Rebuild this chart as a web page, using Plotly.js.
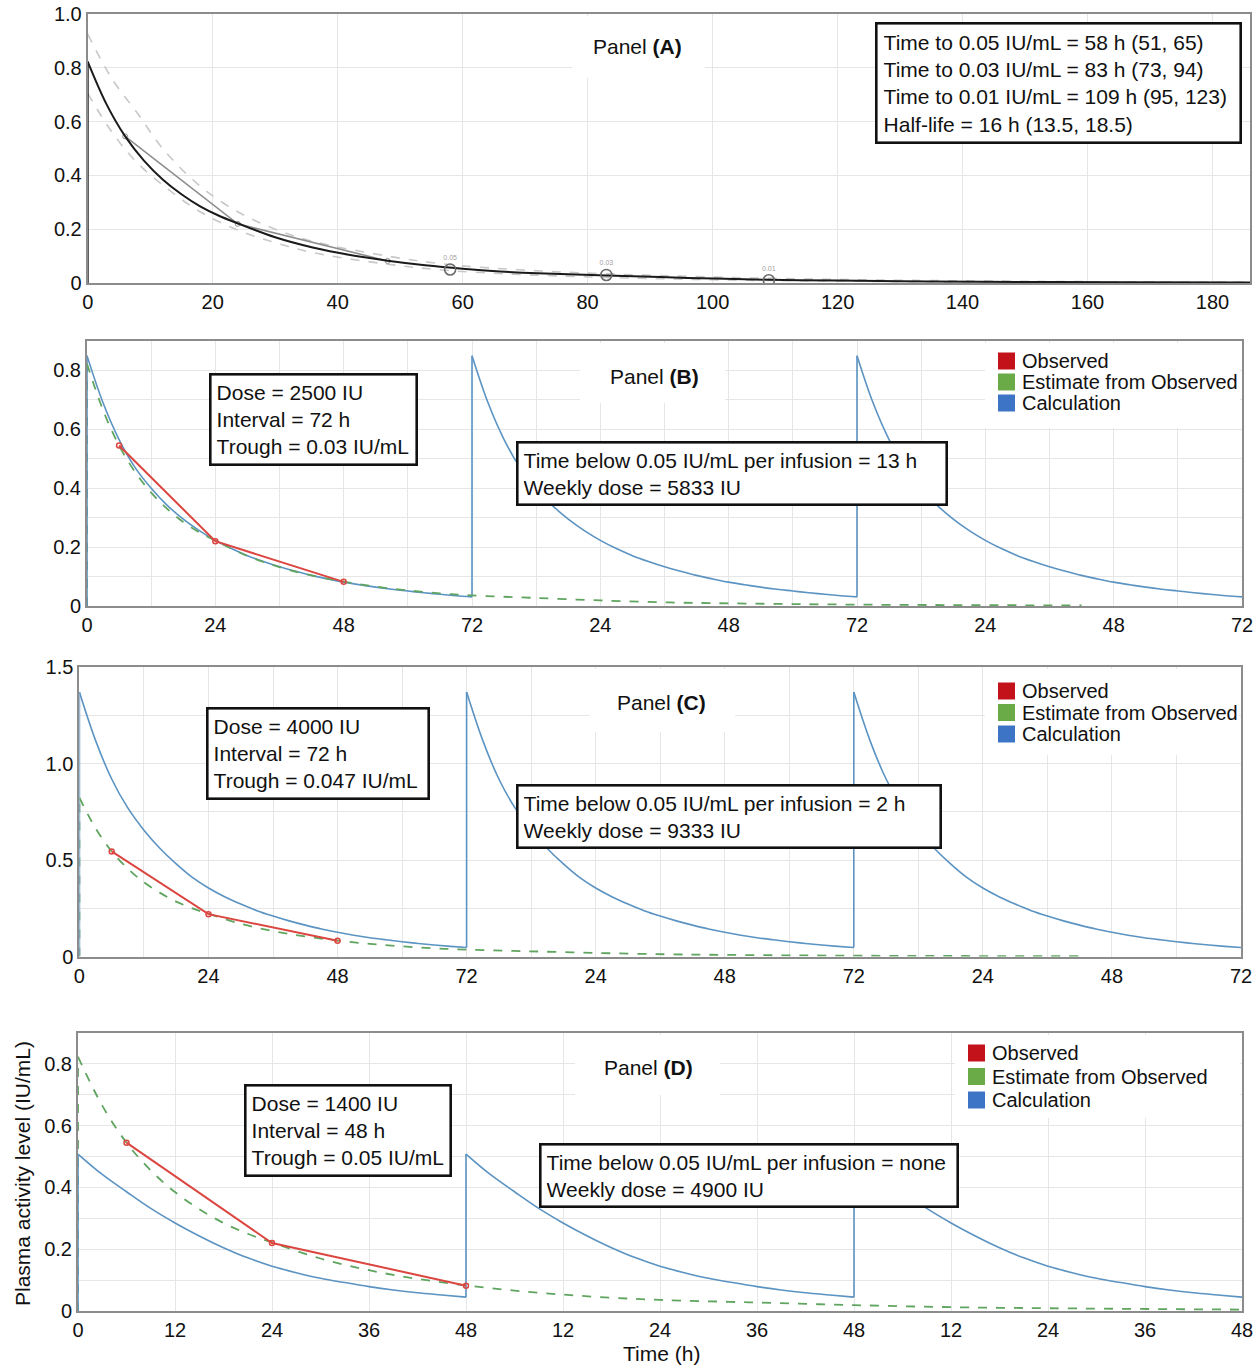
<!DOCTYPE html>
<html>
<head>
<meta charset="utf-8">
<script src="https://cdn.plot.ly/plotly-3.0.1.min.js"></script>
<style>html,body{margin:0;padding:0;background:#fff;}#chart{width:1256px;height:1365px;}</style>
</head>
<body>
<div id="chart"></div>
<script>
// ---------------- DATA ----------------
// Estimate from observed (panel A black curve, green dashed in B-D)
const estT = [0,3,6,9,12,15,18,21,24,30,36,42,48,54,60,66,72,83,96,109,120,135,150,165,186];
const estY = [0.823,0.665,0.545,0.455,0.385,0.33,0.285,0.25,0.222,0.17,0.132,0.104,0.083,0.066,0.053,0.043,0.036,0.028,0.019,0.012,0.009,0.006,0.004,0.003,0.002];
// Confidence band (panel A, grey dashed)
const ciUpT = [0,4,8,12,18,24,30,36,48,58,70,83,100,120,140,160,186];
const ciUpY = [0.925,0.755,0.63,0.5,0.36,0.265,0.2,0.155,0.1,0.068,0.048,0.034,0.022,0.013,0.008,0.005,0.003];
const ciLoT = [0,4,8,13,18,24,30,36,48,58,70,83,100,120,140,160,186];
const ciLoY = [0.705,0.557,0.445,0.346,0.265,0.197,0.15,0.113,0.07,0.046,0.031,0.021,0.012,0.007,0.004,0.003,0.002];
// Observed
const obsT = [6,24,48];
const obsY = [0.545,0.22,0.082];
// Threshold times (panel A)
const thrT = [58,83,109];
const thrY = [0.05,0.03,0.01];
const thrLabels = ["0.05","0.03","0.01"];
// Calculation (one dosing interval per panel)
const calcBT = [0,3,6,9,12,15,18,21,24,27,30,33,36,39,42,45,48,51,54,57,60,63,66,69,72];
const calcBY = [0.85,0.69,0.565,0.47,0.40,0.342,0.295,0.256,0.223,0.195,0.171,0.151,0.133,0.118,0.104,0.092,0.081,0.072,0.064,0.057,0.051,0.045,0.04,0.035,0.031];
const calcCT = [0,3,6,9,12,15,18,21,24,27,30,33,36,39,42,45,48,51,54,57,60,63,66,69,72];
const calcCY = [1.37,1.12,0.92,0.77,0.655,0.56,0.48,0.41,0.355,0.31,0.272,0.238,0.21,0.185,0.163,0.143,0.126,0.111,0.098,0.087,0.077,0.068,0.06,0.053,0.047];
const calcDT = [0,3,6,9,12,15,18,21,24,27,30,33,36,39,42,45,48];
const calcDY = [0.508,0.442,0.386,0.332,0.285,0.243,0.205,0.172,0.145,0.124,0.106,0.092,0.079,0.068,0.059,0.052,0.045];
const intervalB = 72, intervalC = 72, intervalD = 48, nDoses = 3;
// Tick labels
const xTickA = [0,20,40,60,80,100,120,140,160,180];
const xTickAText = ["0","20","40","60","80","100","120","140","160","180"];
const yTickA = [0,0.2,0.4,0.6,0.8,1.0];
const yTickAText = ["0","0.2","0.4","0.6","0.8","1.0"];
const xTick72 = [0,12,24,36,48,60,72,84,96,108,120,132,144,156,168,180,192,204,216];
const xTick72Text = ["0","","24","","48","","72","","24","","48","","72","","24","","48","","72"];
const xTick48 = [0,12,24,36,48,60,72,84,96,108,120,132,144];
const xTick48Text = ["0","12","24","36","48","12","24","36","48","12","24","36","48"];
const yTick09 = [0,0.1,0.2,0.3,0.4,0.5,0.6,0.7,0.8,0.9];
const yTick09Text = ["0","","0.2","","0.4","","0.6","","0.8",""];
const yTickC = [0,0.25,0.5,0.75,1.0,1.25,1.5];
const yTickCText = ["0","","0.5","","1.0","","1.5"];
// Texts
const statsA = ["Time to 0.05 IU/mL = 58 h (51, 65)","Time to 0.03 IU/mL = 83 h (73, 94)","Time to 0.01 IU/mL = 109 h (95, 123)","Half-life = 16 h (13.5, 18.5)"];
const doseB = ["Dose = 2500 IU","Interval = 72 h","Trough = 0.03 IU/mL"];
const infoB = ["Time below 0.05 IU/mL per infusion = 13 h","Weekly dose = 5833 IU"];
const doseC = ["Dose = 4000 IU","Interval = 72 h","Trough = 0.047 IU/mL"];
const infoC = ["Time below 0.05 IU/mL per infusion = 2 h","Weekly dose = 9333 IU"];
const doseD = ["Dose = 1400 IU","Interval = 48 h","Trough = 0.05 IU/mL"];
const infoD = ["Time below 0.05 IU/mL per infusion = none","Weekly dose = 4900 IU"];
const legendNames = ["Observed","Estimate from Observed","Calculation"];
const legendColors = ["#c4121b","#6aab47","#3e74c6"];

// ---------------- STYLE / LAYOUT ----------------
const W = 1256, H = 1365;
const FONT = '"Liberation Sans", Arial, Helvetica, sans-serif';
const BLUE = '#5b93c2', GREEN = '#5fa55f', RED = '#dc4640';
const P = {
  A: {x0: 87.7, x1: 1250, y0: 14, y1: 283, xa: 'x', ya: 'y'},
  B: {x0: 87, x1: 1242, y0: 341, y1: 606, xa: 'x2', ya: 'y2'},
  C: {x0: 79.4, x1: 1241, y0: 667, y1: 956.6, xa: 'x3', ya: 'y3'},
  D: {x0: 78, x1: 1242, y0: 1033, y1: 1311, xa: 'x4', ya: 'y4'}
};
const px = v => v / W, py = v => 1 - v / H;
const xdom = p => [px(p.x0), px(p.x1)];
const ydom = p => [py(p.y1), py(p.y0)];

function doses(t, y, tau, n) {
  const xs = [], ys = [];
  for (let k = 0; k < n; k++) {
    for (let i = 0; i < t.length; i++) { xs.push(t[i] + k * tau); ys.push(y[i]); }
    xs.push(null); ys.push(null);
  }
  return {x: xs, y: ys};
}
function jumps(y, tau, n) {
  const xs = [0, 0], ys = [0, y[0]];
  for (let k = 1; k < n; k++) { xs.push(null, k * tau, k * tau); ys.push(null, y[y.length - 1], y[0]); }
  return {x: xs, y: ys};
}

const traces = [];
// Panel A
traces.push({x: ciLoT, y: ciLoY, xaxis: 'x', yaxis: 'y', mode: 'lines', line: {color: '#c8c8c8', width: 1.6, dash: 'dash', shape: 'spline'}});
traces.push({x: ciUpT, y: ciUpY, xaxis: 'x', yaxis: 'y', mode: 'lines', line: {color: '#c8c8c8', width: 1.6, dash: 'dash', shape: 'spline'}});
traces.push({x: obsT, y: obsY, xaxis: 'x', yaxis: 'y', mode: 'lines+markers', line: {color: '#8e8e8e', width: 1.6}, marker: {symbol: 'circle-open', size: 5, color: '#8e8e8e'}});
traces.push({x: [estT[0], estT[0]], y: [0, estY[0]], xaxis: 'x', yaxis: 'y', mode: 'lines', line: {color: '#1a1a1a', width: 2}});
traces.push({x: estT, y: estY, xaxis: 'x', yaxis: 'y', mode: 'lines', line: {color: '#1a1a1a', width: 2, shape: 'spline'}});
traces.push({x: thrT, y: thrY, xaxis: 'x', yaxis: 'y', mode: 'markers+text', text: thrLabels, textposition: 'top center',
  textfont: {size: 7, color: '#a0a0a0', family: FONT}, marker: {symbol: 'circle-open', size: 11, color: '#6a6a6a', line: {width: 1.6}}});

function panelTraces(p, calcT, calcY, tau) {
  const j = jumps(calcY, tau, nDoses), d = doses(calcT, calcY, tau, nDoses);
  traces.push({x: [estT[0], estT[0]], y: [0, estY[0]], xaxis: p.xa, yaxis: p.ya, mode: 'lines', line: {color: GREEN, width: 1.8, dash: 'dash'}});
  traces.push({x: j.x, y: j.y, xaxis: p.xa, yaxis: p.ya, mode: 'lines', line: {color: BLUE, width: 1.6}, connectgaps: false});
  traces.push({x: d.x, y: d.y, xaxis: p.xa, yaxis: p.ya, mode: 'lines', line: {color: BLUE, width: 1.6, shape: 'spline'}, connectgaps: false});
  traces.push({x: estT, y: estY, xaxis: p.xa, yaxis: p.ya, mode: 'lines', line: {color: GREEN, width: 1.8, dash: 'dash', shape: 'spline'}});
  traces.push({x: obsT, y: obsY, xaxis: p.xa, yaxis: p.ya, mode: 'lines+markers', line: {color: RED, width: 2}, marker: {symbol: 'circle-open', size: 5, color: RED, line: {width: 1.5}}});
}
panelTraces(P.B, calcBT, calcBY, intervalB);
panelTraces(P.C, calcCT, calcCY, intervalC);
panelTraces(P.D, calcDT, calcDY, intervalD);

function axis(dom, range, tv, tt, anchor) {
  return {domain: dom, range: range, anchor: anchor, tickmode: 'array', tickvals: tv, ticktext: tt,
    showline: true, mirror: true, linecolor: '#8c8c8c', linewidth: 2, showgrid: true, gridcolor: '#e6e6e6', gridwidth: 1,
    zeroline: false, ticks: '', ticklabeloverflow: 'allow', tickfont: {size: 20, color: '#111', family: FONT}, fixedrange: true};
}

const layout = {
  width: W, height: H, margin: {l: 0, r: 0, t: 0, b: 0}, showlegend: false,
  paper_bgcolor: '#fff', plot_bgcolor: '#fff', font: {family: FONT, color: '#111'},
  xaxis: axis(xdom(P.A), [0, 186], xTickA, xTickAText, 'y'),
  yaxis: axis(ydom(P.A), [0, 1.0], yTickA, yTickAText, 'x'),
  xaxis2: axis(xdom(P.B), [0, 216], xTick72, xTick72Text, 'y2'),
  yaxis2: axis(ydom(P.B), [0, 0.9], yTick09, yTick09Text, 'x2'),
  xaxis3: axis(xdom(P.C), [0, 216], xTick72, xTick72Text, 'y3'),
  yaxis3: axis(ydom(P.C), [0, 1.5], yTickC, yTickCText, 'x3'),
  xaxis4: axis(xdom(P.D), [0, 144], xTick48, xTick48Text, 'y4'),
  yaxis4: axis(ydom(P.D), [0, 0.9], yTick09, yTick09Text, 'x4'),
  annotations: [], shapes: []
};

function whitePatch(x0, x1, y0, y1) {
  layout.shapes.push({type: 'rect', xref: 'paper', yref: 'paper', x0: px(x0), x1: px(x1), y0: py(y1), y1: py(y0),
    fillcolor: '#fff', line: {width: 0}, layer: 'above'});
}
function title(label, x, y) {
  layout.annotations.push({xref: 'paper', yref: 'paper', x: px(x), y: py(y), xanchor: 'center', yanchor: 'middle', showarrow: false,
    text: 'Panel <b>(' + label + ')</b>', font: {size: 21, color: '#111'}});
}
function box(lines, x, y, w, pad) {
  layout.annotations.push({xref: 'paper', yref: 'paper', x: px(x), y: py(y), xanchor: 'left', yanchor: 'top', align: 'left', showarrow: false,
    text: lines.join('<br>'), width: w, font: {size: 21, color: '#111'}, bgcolor: '#fff', bordercolor: '#111', borderwidth: 2.6, borderpad: pad});
}
function legend(x, yc, step) {
  for (let i = 0; i < legendNames.length; i++) {
    const y = yc + i * step;
    layout.shapes.push({type: 'rect', xref: 'paper', yref: 'paper', x0: px(x), x1: px(x + 17), y0: py(y + 8.5), y1: py(y - 8.5),
      fillcolor: legendColors[i], line: {width: 0}, layer: 'above'});
    layout.annotations.push({xref: 'paper', yref: 'paper', x: px(x + 22), y: py(y), xanchor: 'left', yanchor: 'middle', showarrow: false,
      text: legendNames[i], font: {size: 20, color: '#111'}});
  }
}

whitePatch(572, 705, 16, 78);
whitePatch(580, 725, 343, 403); whitePatch(985, 1240, 343, 428);
whitePatch(590, 735, 669, 732); whitePatch(985, 1239, 669, 755);
whitePatch(575, 720, 1035, 1095); whitePatch(955, 1240, 1035, 1118);

title('A', 637, 47); title('B', 654, 376); title('C', 661, 703); title('D', 648, 1067);
box(statsA, 875, 22, 350, 6);
box(doseB, 209, 373, 194, 5); box(infoB, 516, 441, 417, 5);
box(doseC, 206, 707, 209, 5); box(infoC, 516, 784, 411, 5);
box(doseD, 244, 1084, 193, 5); box(infoD, 539, 1143, 405, 5);
legend(998, 361, 21); legend(998, 691, 21.5); legend(968, 1053, 23.5);

layout.annotations.push({xref: 'paper', yref: 'paper', x: px(22), y: py(1174), xanchor: 'center', yanchor: 'middle', textangle: -90, showarrow: false,
  text: 'Plasma activity level (IU/mL)', font: {size: 21, color: '#111'}});
layout.annotations.push({xref: 'paper', yref: 'paper', x: px(661), y: py(1353), xanchor: 'center', yanchor: 'middle', showarrow: false,
  text: 'Time (h)', font: {size: 21, color: '#111'}});

Plotly.newPlot('chart', traces, layout, {staticPlot: true, displayModeBar: false});
</script>
</body>
</html>
